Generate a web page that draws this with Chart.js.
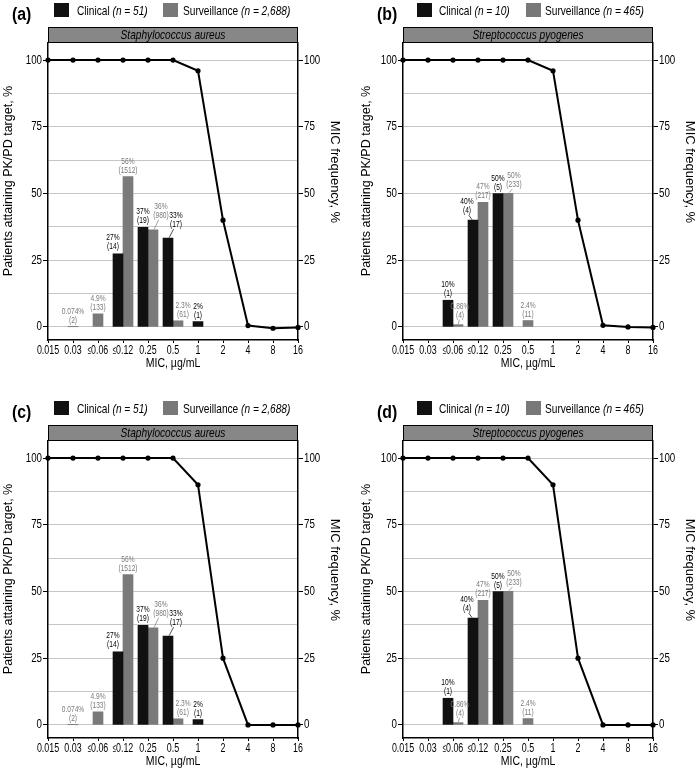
<!DOCTYPE html>
<html>
<head>
<meta charset="utf-8">
<script src="https://cdn.jsdelivr.net/npm/chart.js@4.4.1/dist/chart.umd.min.js"></script>
<style>
  body { margin: 0; background: #fff; width: 696px; height: 770px; position: relative; overflow: hidden; }
  canvas { position: absolute; }
</style>
</head>
<body>
<canvas id="pa" width="348" height="372" style="left:0;top:0"></canvas>
<canvas id="pb" width="341" height="372" style="left:355px;top:0"></canvas>
<canvas id="pc" width="348" height="372" style="left:0;top:398px"></canvas>
<canvas id="pd" width="341" height="372" style="left:355px;top:398px"></canvas>
<script>
// ---- data ----
const micLabels = ['0.015', '0.03', '≤0.06', '≤0.12', '0.25', '0.5', '1', '2', '4', '8', '16'];
const yTicks = [0, 25, 50, 75, 100];
const gridLines = [0, 12.5, 25, 37.5, 50, 62.5, 75, 87.5, 100];

// S. aureus MIC frequency, % (null = no isolates)
const aureusClinical = [null, null, null, 27.4, 37.3, 33.3, 2.0, null, null, null, null];
const aureusClinicalN = [null, null, null, 14, 19, 17, 1, null, null, null, null];
const aureusSurv = [null, 0.074, 4.9, 56.3, 36.4, 2.3, null, null, null, null, null];
const aureusSurvN = [null, 2, 133, 1512, 980, 61, null, null, null, null, null];

// S. pyogenes MIC frequency, %
const pyoClinical = [null, null, 10, 40, 50, null, null, null, null, null, null];
const pyoClinicalN = [null, null, 1, 4, 5, null, null, null, null, null, null];
const pyoSurv = [null, null, 0.86, 46.7, 50.1, 2.4, null, null, null, null, null];
const pyoSurvN = [null, null, 4, 217, 233, 11, null, null, null, null, null];

// patients attaining PK/PD target, %
const ptaA = [100, 100, 100, 100, 100, 100, 96, 40, 0.5, -0.5, -0.2];
const ptaB = [100, 100, 100, 100, 100, 100, 96, 40, 0.6, 0, -0.2];
const ptaC = [100, 100, 100, 100, 100, 100, 90, 25, 0, 0, 0];
const ptaD = [100, 100, 100, 100, 100, 100, 90, 25, 0, 0, 0];

const FONT = 'Arial, "Liberation Sans", sans-serif';
const SX = 0.78;   // the original figure is squeezed horizontally
Chart.defaults.font.family = FONT;
Chart.defaults.color = '#000';

// label nudges (px) for crowded bar annotations
const aureusNudge = { c3: [-5, -1], s4: [8, -8], c5: [8, -7], s5: [5, 0] };
const pyoNudge = { s2: [2, -3], c3: [-6, -3], s4: [6, -2] };

const fmtPct = (v, clinical) => {
  if (clinical) return Math.round(v) + '%';
  if (v < 1) return v.toPrecision(2) + '%';
  if (v < 10) return v.toFixed(1) + '%';
  return Math.round(v) + '%';
};

// narrow text helper
function sText(ctx, s, x, y, font, align, sx) {
  ctx.save();
  ctx.font = font;
  ctx.textAlign = align;
  ctx.translate(x, y);
  ctx.scale(sx, 1);
  ctx.fillText(s, 0, 0);
  ctx.restore();
}

// tick label with a compact "≤" sign
function tickText(ctx, s, x, y) {
  const font = '12px ' + FONT;
  ctx.font = font;
  const le = s.startsWith('≤');
  const rest = le ? s.slice(1) : s;
  const wLe = le ? ctx.measureText('≤').width * 0.5 : 0;
  const wRest = ctx.measureText(rest).width * 0.74;
  const x0 = x - (wLe + wRest) / 2;
  if (le) sText(ctx, '≤', x0, y, font, 'left', 0.5);
  sText(ctx, rest, x0 + wLe, y, font, 'left', 0.74);
}

const panelPlugin = {
  id: 'panel',
  afterDatasetsDraw(chart, args, o) {
    const ctx = chart.ctx;
    const ca = chart.chartArea;
    ctx.save();
    ctx.textBaseline = 'middle';

    // strip with organism name
    ctx.fillStyle = '#878787';
    ctx.fillRect(ca.left, 27, ca.right - ca.left, 16);
    ctx.strokeStyle = '#000';
    ctx.lineWidth = 1;
    ctx.strokeRect(ca.left + 0.5, 27.5, ca.right - ca.left - 1, 15);
    ctx.fillStyle = '#000';
    sText(ctx, o.organism, (ca.left + ca.right) / 2, 35.5, 'italic 13px ' + FONT, 'center', SX);

    // panel letter
    sText(ctx, o.letter, o.lx, 15, 'bold 18px ' + FONT, 'left', 0.88);

    // legend
    const item = (sx, tx, col, name, n) => {
      ctx.fillStyle = col;
      ctx.fillRect(sx, 3, 15, 14);
      ctx.fillStyle = '#000';
      sText(ctx, name + ' ', tx, 11, '13px ' + FONT, 'left', SX);
      ctx.font = '13px ' + FONT;
      const w = ctx.measureText(name + ' ').width * SX;
      sText(ctx, n, tx + w, 11, 'italic 13px ' + FONT, 'left', SX);
    };
    item(o.leg[0], o.leg[1], '#111', 'Clinical', o.nClin);
    item(o.leg[2], o.leg[3], '#787878', 'Surveillance', o.nSurv);

    // tick labels
    const xs = chart.scales.x, ys = chart.scales.y;
    micLabels.forEach((lab, i) => tickText(ctx, lab, xs.getPixelForTick(i), 351));
    yTicks.forEach(v => {
      const py = ys.getPixelForValue(v);
      sText(ctx, String(v), ca.left - 6, py, '12.5px ' + FONT, 'right', SX);
      sText(ctx, String(v), ca.right + 6, py, '12.5px ' + FONT, 'left', SX);
    });

    // axis titles
    ctx.font = '12.5px ' + FONT;
    ctx.textAlign = 'center';
    ctx.save();
    ctx.translate(o.ty, 181);
    ctx.rotate(-Math.PI / 2);
    ctx.fillText('Patients attaining PK/PD target, %', 0, 0);
    ctx.restore();
    ctx.save();
    ctx.translate(335, 172);
    ctx.rotate(Math.PI / 2);
    ctx.font = '13px ' + FONT;
    ctx.fillText('MIC frequency, %', 0, 0);
    ctx.restore();
    sText(ctx, 'MIC, µg/mL', (ca.left + ca.right) / 2, 363, '13.5px ' + FONT, 'center', SX);

    // bar annotations
    ctx.textBaseline = 'alphabetic';
    [0, 1].forEach(di => {
      const ds = chart.data.datasets[di];
      const counts = di === 0 ? o.clinN : o.survN;
      chart.getDatasetMeta(di).data.forEach((bar, i) => {
        const v = ds.data[i];
        if (v == null) return;
        const nd = o.nudge[(di === 0 ? 'c' : 's') + i] || [0, 0];
        const x = bar.x + nd[0];
        const base = bar.y - 4 + nd[1];
        ctx.fillStyle = di === 0 ? '#000' : '#7a7a7a';
        ctx.strokeStyle = ctx.fillStyle;
        sText(ctx, fmtPct(v, di === 0), x, base - 9, '8.5px ' + FONT, 'center', SX);
        sText(ctx, '(' + counts[i] + ')', x, base, '8.5px ' + FONT, 'center', SX);
        if (nd[1] <= -2) {
          ctx.lineWidth = 0.7;
          ctx.beginPath();
          ctx.moveTo(x - nd[0] * 0.3, base + 2);
          ctx.lineTo(bar.x + nd[0] * 0.15, bar.y - 0.5);
          ctx.stroke();
        }
      });
    });
    ctx.restore();
  }
};

function makePanel(id, cfg) {
  const canvas = document.getElementById(id);
  const W = canvas.width;
  const yBase = {
    min: -4.9, max: 106.4,
    afterBuildTicks: s => { s.ticks = gridLines.map(v => ({ value: v })); },
    ticks: { display: false },
    border: { color: '#000', width: 1.5 }
  };
  const tickCol = c => (c.tick && c.tick.value % 25 === 0 ? '#000' : 'rgba(0,0,0,0)');
  new Chart(canvas, {
    type: 'bar',
    data: {
      labels: micLabels,
      datasets: [
        { type: 'bar', label: 'Clinical', data: cfg.clin, backgroundColor: '#111', yAxisID: 'y2',
          barThickness: 10, skipNull: true, order: 1 },
        { type: 'bar', label: 'Surveillance', data: cfg.surv, backgroundColor: '#7a7a7a', yAxisID: 'y2',
          barThickness: 10, skipNull: true, order: 1 },
        { type: 'line', label: 'PTA', data: cfg.pta, borderColor: '#000', borderWidth: 2, tension: 0,
          pointRadius: 2.6, pointBackgroundColor: '#000', pointBorderWidth: 0, yAxisID: 'y', order: 0, clip: false }
      ]
    },
    options: {
      responsive: false,
      animation: false,
      layout: { padding: { top: 43, left: 0, right: 0, bottom: 0 }, autoPadding: false },
      plugins: {
        legend: { display: false },
        tooltip: { enabled: false },
        panel: {
          letter: cfg.letter, lx: cfg.lx, organism: cfg.organism, leg: cfg.leg, ty: cfg.ty,
          nClin: cfg.nClin, nSurv: cfg.nSurv, clinN: cfg.clinN, survN: cfg.survN, nudge: cfg.nudge
        }
      },
      scales: {
        x: {
          type: 'category', offset: false,
          grid: { drawOnChartArea: false, offset: false, tickLength: 3, tickColor: '#000' },
          border: { color: '#000', width: 1.5 },
          ticks: { display: false, autoSkip: false, maxRotation: 0, minRotation: 0 },
          afterFit: s => { s.height = 32; }
        },
        y: Object.assign({}, yBase, {
          position: 'left',
          grid: { color: '#c6c6c6', lineWidth: 1, tickLength: 5, tickColor: tickCol },
          afterFit: s => { s.width = 48; }
        }),
        y2: Object.assign({}, yBase, {
          position: 'right',
          grid: { drawOnChartArea: false, tickLength: 5, tickColor: tickCol },
          afterFit: s => { s.width = W - 298; }
        })
      }
    },
    plugins: [panelPlugin]
  });
}

const aureusBase = { organism: 'Staphylococcus aureus', clin: aureusClinical, surv: aureusSurv,
  clinN: aureusClinicalN, survN: aureusSurvN, nClin: '(n = 51)', nSurv: '(n = 2,688)',
  nudge: aureusNudge, lx: 12, leg: [54, 77, 163, 183], ty: 9 };
const pyoBase = { organism: 'Streptococcus pyogenes', clin: pyoClinical, surv: pyoSurv,
  clinN: pyoClinicalN, survN: pyoSurvN, nClin: '(n = 10)', nSurv: '(n = 465)',
  nudge: pyoNudge, lx: 22, leg: [62, 84, 171, 190], ty: 12 };

makePanel('pa', Object.assign({}, aureusBase, { letter: '(a)', pta: ptaA }));
makePanel('pb', Object.assign({}, pyoBase, { letter: '(b)', pta: ptaB }));
makePanel('pc', Object.assign({}, aureusBase, { letter: '(c)', pta: ptaC }));
makePanel('pd', Object.assign({}, pyoBase, { letter: '(d)', pta: ptaD }));
</script>
</body>
</html>
